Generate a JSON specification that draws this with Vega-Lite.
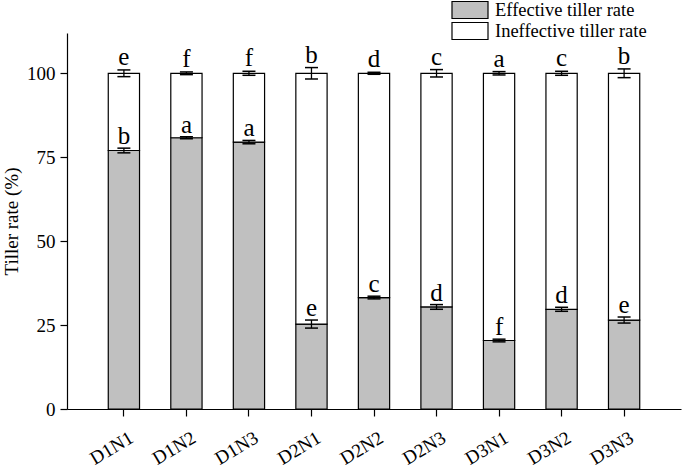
{
  "$schema": "https://vega.github.io/schema/vega-lite/v6.json",
  "width": 614,
  "height": 376,
  "autosize": {"type": "none"},
  "padding": {"left": 67, "top": 33, "right": 1, "bottom": 59},
  "config": {
    "font": "Liberation Serif",
    "view": {"stroke": null},
    "axis": {"grid": false, "domainColor": "black", "tickColor": "black", "labelColor": "black", "titleColor": "black", "domainWidth": 1.2, "tickWidth": 1.2}
  },
  "datasets": {
    "bars": [
      {"g": "D1N1", "type": "Effective tiller rate", "v": 77.0},
      {"g": "D1N1", "type": "Ineffective tiller rate", "v": 23.0},
      {"g": "D1N2", "type": "Effective tiller rate", "v": 80.8},
      {"g": "D1N2", "type": "Ineffective tiller rate", "v": 19.2},
      {"g": "D1N3", "type": "Effective tiller rate", "v": 79.5},
      {"g": "D1N3", "type": "Ineffective tiller rate", "v": 20.5},
      {"g": "D2N1", "type": "Effective tiller rate", "v": 25.3},
      {"g": "D2N1", "type": "Ineffective tiller rate", "v": 74.7},
      {"g": "D2N2", "type": "Effective tiller rate", "v": 33.2},
      {"g": "D2N2", "type": "Ineffective tiller rate", "v": 66.8},
      {"g": "D2N3", "type": "Effective tiller rate", "v": 30.4},
      {"g": "D2N3", "type": "Ineffective tiller rate", "v": 69.6},
      {"g": "D3N1", "type": "Effective tiller rate", "v": 20.4},
      {"g": "D3N1", "type": "Ineffective tiller rate", "v": 79.6},
      {"g": "D3N2", "type": "Effective tiller rate", "v": 29.7},
      {"g": "D3N2", "type": "Ineffective tiller rate", "v": 70.3},
      {"g": "D3N3", "type": "Effective tiller rate", "v": 26.5},
      {"g": "D3N3", "type": "Ineffective tiller rate", "v": 73.5}
    ],
    "err": [
      {"g": "D1N1", "effLo": 76.3, "effHi": 77.7, "totLo": 99.0, "totHi": 101.0, "effL": "b", "totL": "e"},
      {"g": "D1N2", "effLo": 80.5, "effHi": 81.1, "totLo": 99.6, "totHi": 100.4, "effL": "a", "totL": "f"},
      {"g": "D1N3", "effLo": 79.0, "effHi": 80.0, "totLo": 99.4, "totHi": 100.6, "effL": "a", "totL": "f"},
      {"g": "D2N1", "effLo": 24.1, "effHi": 26.5, "totLo": 98.3, "totHi": 101.7, "effL": "e", "totL": "b"},
      {"g": "D2N2", "effLo": 32.8, "effHi": 33.6, "totLo": 99.7, "totHi": 100.3, "effL": "c", "totL": "d"},
      {"g": "D2N3", "effLo": 29.7, "effHi": 31.1, "totLo": 98.9, "totHi": 101.1, "effL": "d", "totL": "c"},
      {"g": "D3N1", "effLo": 20.0, "effHi": 20.8, "totLo": 99.5, "totHi": 100.5, "effL": "f", "totL": "a"},
      {"g": "D3N2", "effLo": 29.1, "effHi": 30.3, "totLo": 99.4, "totHi": 100.6, "effL": "d", "totL": "c"},
      {"g": "D3N3", "effLo": 25.6, "effHi": 27.4, "totLo": 98.7, "totHi": 101.3, "effL": "e", "totL": "b"}
    ]
  },
  "encoding": {
    "x": {
      "field": "g", "type": "nominal", "sort": null,
      "scale": {"paddingInner": 0.5, "paddingOuter": 0.66},
      "axis": {"title": null, "labelAngle": -31, "labelFontSize": 19, "labelPadding": 12, "tickSize": 7, "labelOffset": 3}
    }
  },
  "layer": [
    {
      "data": {"name": "bars"},
      "mark": {"type": "bar", "stroke": "black", "strokeWidth": 1.2},
      "encoding": {
        "y": {
          "field": "v", "type": "quantitative", "stack": "zero",
          "scale": {"domain": [0, 112], "nice": false},
          "axis": {"values": [0, 25, 50, 75, 100], "title": "Tiller rate (%)", "titleFontSize": 19, "titleFontWeight": "normal", "labelFontSize": 19, "tickSize": 7, "labelPadding": 5, "titlePadding": 5}
        },
        "color": {
          "field": "type", "type": "nominal",
          "scale": {"domain": ["Effective tiller rate", "Ineffective tiller rate"], "range": ["#c0c0c0", "#ffffff"]},
          "legend": {"title": null, "orient": "none", "legendX": 393.5, "legendY": -32.5, "symbolType": "M-2.118,-1H2.118V1H-2.118Z", "symbolSize": 289, "symbolStrokeColor": "black", "symbolStrokeWidth": 1.2, "labelFontSize": 18.5, "labelColor": "black", "labelOffset": 15.5, "rowPadding": -2, "symbolOpacity": 1}
        },
        "order": {"field": "type", "sort": "ascending"}
      }
    },
    {
      "data": {"name": "err"},
      "mark": {"type": "rule", "color": "black", "strokeWidth": 1.3},
      "encoding": {"y": {"field": "effLo", "type": "quantitative"}, "y2": {"field": "effHi"}}
    },
    {
      "data": {"name": "err"},
      "mark": {"type": "rule", "color": "black", "strokeWidth": 1.3},
      "encoding": {"y": {"field": "totLo", "type": "quantitative"}, "y2": {"field": "totHi"}}
    },
    {
      "data": {"name": "err"},
      "mark": {"type": "tick", "color": "black", "size": 13, "thickness": 1.5, "opacity": 1},
      "encoding": {"y": {"field": "effLo", "type": "quantitative"}}
    },
    {
      "data": {"name": "err"},
      "mark": {"type": "tick", "color": "black", "size": 13, "thickness": 1.5, "opacity": 1},
      "encoding": {"y": {"field": "effHi", "type": "quantitative"}}
    },
    {
      "data": {"name": "err"},
      "mark": {"type": "tick", "color": "black", "size": 13, "thickness": 1.5, "opacity": 1},
      "encoding": {"y": {"field": "totLo", "type": "quantitative"}}
    },
    {
      "data": {"name": "err"},
      "mark": {"type": "tick", "color": "black", "size": 13, "thickness": 1.5, "opacity": 1},
      "encoding": {"y": {"field": "totHi", "type": "quantitative"}}
    },
    {
      "data": {"name": "err"},
      "mark": {"type": "text", "fontSize": 25, "baseline": "alphabetic", "dy": -4, "color": "black"},
      "encoding": {"y": {"field": "effHi", "type": "quantitative"}, "text": {"field": "effL"}}
    },
    {
      "data": {"name": "err"},
      "mark": {"type": "text", "fontSize": 25, "baseline": "alphabetic", "dy": -5, "color": "black"},
      "encoding": {"y": {"field": "totHi", "type": "quantitative"}, "text": {"field": "totL"}}
    }
  ]
}
